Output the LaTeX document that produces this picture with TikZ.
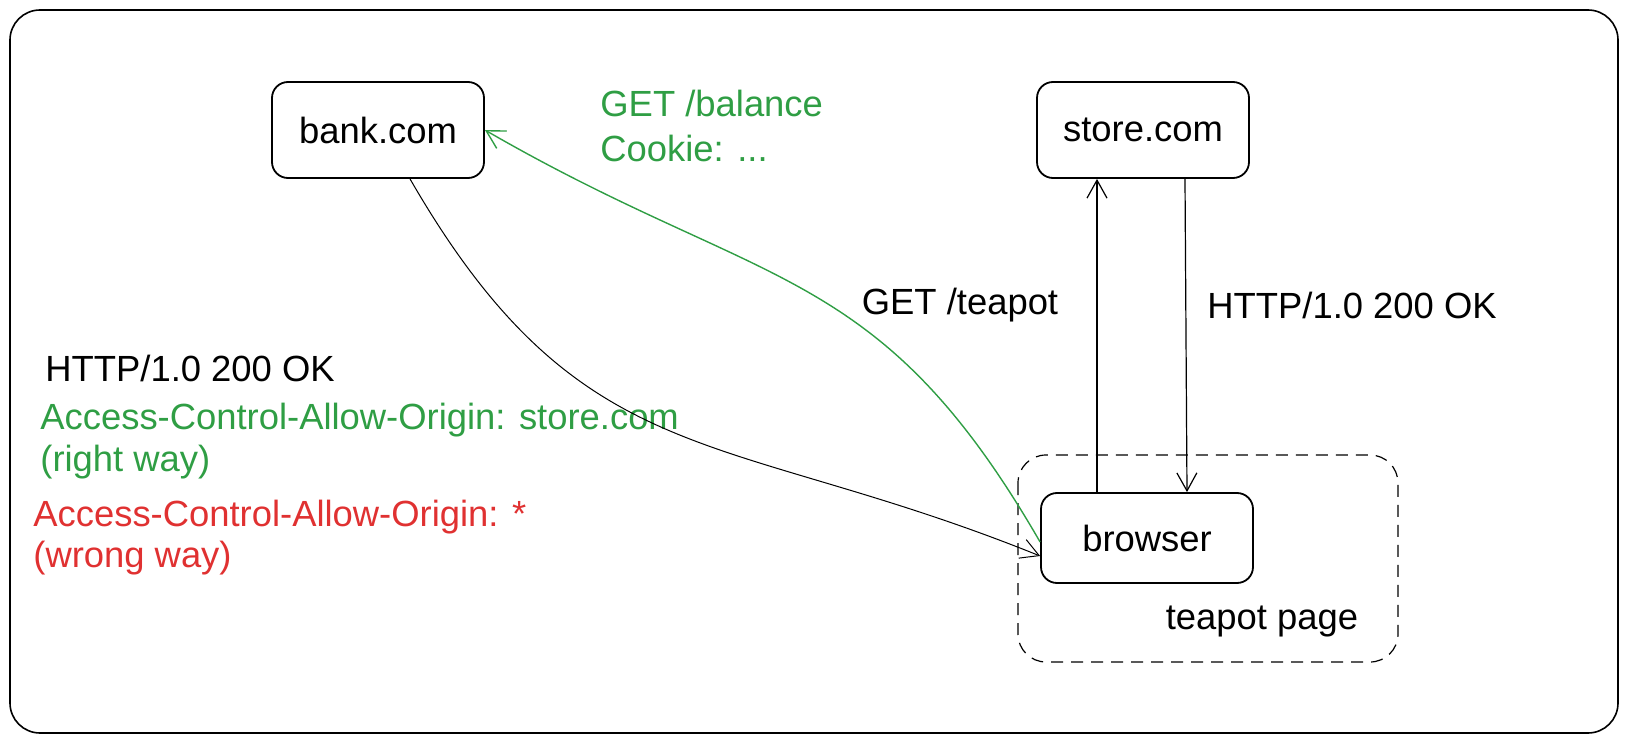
\documentclass[tikz,border=0pt]{standalone}
\usepackage{fontspec}
\setmainfont{Liberation Sans}
\usetikzlibrary{arrows.meta,positioning}
\definecolor{okgreen}{HTML}{2F9E44}
\definecolor{badred}{HTML}{E03131}

\begin{document}
\begin{tikzpicture}[x=0.5pt, y=-0.5pt, >={Straight Barb[length=9pt,width=10pt]}, host/.style={draw, line width=0.9pt, rounded corners=8pt, minimum width=106pt, minimum height=48pt}, note/.style={anchor=west, inner sep=0pt}, font=\fontsize{18.2}{22}\selectfont]
  \useasboundingbox (0,0) rectangle (1629,743);
  \draw[line width=0.8pt, rounded corners=15pt] (10,10) rectangle (1618,733);
  \draw (378,130)node[host](bank){bank.com};
  \draw (1143,130)node[host](store){store.com};
  \draw (1147,538)node[host, minimum height=45pt](browser){browser};
  \draw[dash pattern=on 6pt off 4pt, line width=0.6pt, rounded corners=14pt] (1018,455) rectangle (1398,662);
  \draw (1262,622)node(page){teapot page};
  \draw (600,103)node[note, text=okgreen](get){GET /balance};
  \draw (600,148)node[note, text=okgreen](cookie){Cookie: ...};
  \draw (960,305)node(teapot){GET /teapot};
  \draw (1207,305)node[note](ok){HTTP/1.0 200 OK};
  \draw (45,368)node[note](resp){HTTP/1.0 200 OK};
  \draw (40,420)node[note, text=okgreen](right){Access-Control-Allow-Origin: store.com};
  \draw (40,462)node[note, text=okgreen](rightway){(right way)};
  \draw (33,517)node[note, text=badred](wrong){Access-Control-Allow-Origin: *};
  \draw (33,558)node[note, text=badred](wrongway){(wrong way)};
  \path[->, line width=0.5pt] ([xshift=16pt]bank.south) edge[out=-60, in=158, looseness=1.2] ([yshift=-9pt]browser.west);
  \path[->, line width=0.7pt, okgreen] ([yshift=-2pt]browser.west) edge[out=120, in=-30, looseness=1.2] (bank.east);
  \path[->, line width=0.6pt] ([xshift=-25pt]browser.north) edge ([xshift=-23pt]store.south);
  \path[->, line width=0.6pt] ([xshift=21pt]store.south) edge ([xshift=20pt]browser.north);
\end{tikzpicture}
\end{document}
